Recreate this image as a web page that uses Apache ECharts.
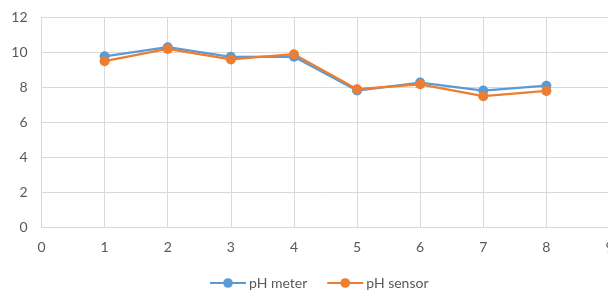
<!DOCTYPE html>
<html><head><meta charset="utf-8">
<script src="https://cdn.jsdelivr.net/npm/echarts@6/dist/echarts.min.js"></script>
<style>html,body{margin:0;padding:0;background:#fff}#c{width:608px;height:291px}</style>
</head><body><div id="c"></div>
<script>
const xValues = [1, 2, 3, 4, 5, 6, 7, 8];
const phMeter = [9.78, 10.3, 9.75, 9.76, 7.82, 8.28, 7.82, 8.1];
const phSensor = [9.5, 10.2, 9.6, 9.9, 7.9, 8.18, 7.5, 7.8];
const seriesNames = ['pH meter', 'pH sensor'];
const colors = ['#5B9BD5', '#ED7D31'];

const chart = echarts.init(document.getElementById('c'), null, {renderer: 'canvas'});
const font = 'Lato, "Open Sans", sans-serif';
function mk(name, vals, color) {
  return {
    name: name, type: 'line', data: xValues.map((x, i) => [x, vals[i]]),
    symbol: 'circle', symbolSize: 10,
    lineStyle: {color: color, width: 2.25},
    itemStyle: {color: color},
    animation: false
  };
}
chart.setOption({
  animation: false,
  color: colors,
  grid: {left: 41.5, width: 568, top: 17.5, height: 209.8, containLabel: false, outerBoundsMode: 'none'},
  xAxis: {
    type: 'value', min: 0, max: 9, interval: 1,
    axisLine: {show: true, lineStyle: {color: '#d9d9d9', width: 1}},
    axisTick: {show: false},
    splitLine: {show: true, lineStyle: {color: '#d9d9d9', width: 1}},
    axisLabel: {color: '#595959', fontSize: 14, fontFamily: font, margin: 13}
  },
  yAxis: {
    type: 'value', min: 0, max: 12, interval: 2,
    axisLine: {show: true, lineStyle: {color: '#d9d9d9', width: 1}},
    axisTick: {show: false},
    splitLine: {show: true, lineStyle: {color: '#d9d9d9', width: 1}},
    axisLabel: {color: '#595959', fontSize: 14, fontFamily: font, margin: 14}
  },
  legend: {
    left: 209, top: 276, padding: 0,
    itemWidth: 36, itemHeight: 12, itemGap: 19,
    textStyle: {color: '#595959', fontSize: 14, fontFamily: font, padding: [0, 0, 0, -2]},
    data: seriesNames
  },
  series: [mk(seriesNames[0], phMeter, colors[0]), mk(seriesNames[1], phSensor, colors[1])]
});
</script></body></html>
